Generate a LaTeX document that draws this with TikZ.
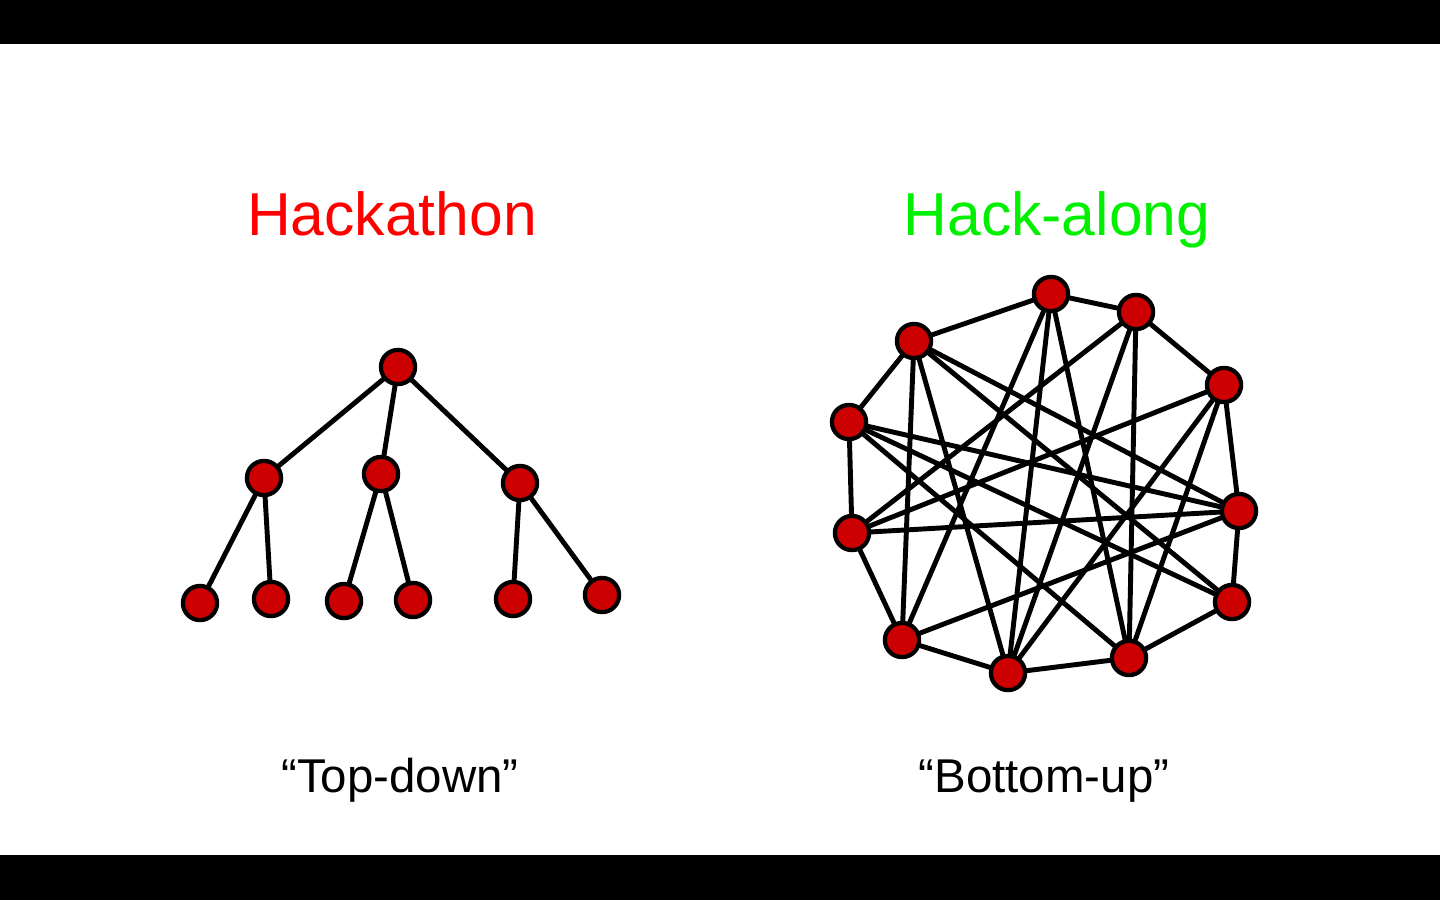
\documentclass[tikz,border=0pt]{standalone}
\usepackage{fontspec}
\setmainfont{Liberation Sans}
\definecolor{dotred}{HTML}{CC0000}
\definecolor{hackgreen}{HTML}{00F000}
\tikzset{
	dot/.style={circle, draw=black, fill=dotred, line width=2.4pt, minimum size=19.5pt, inner sep=0pt},
	link/.style={line width=2.8pt},
	title/.style={anchor=base, font=\fontsize{34.5}{40}\selectfont},
	caption/.style={anchor=base, font=\fontsize{27}{32}\selectfont}
}

\begin{document}
\begin{tikzpicture}[x=0.02cm, y=-0.02cm, line cap=round, line join=round]
\useasboundingbox (0,0) rectangle (1440,900);
% black bars
\fill[black] (0,0) rectangle (1440,44);
\fill[black] (0,855) rectangle (1440,900);

%========================
% Left: tree
%========================
\begin{scope}
	\node[title, text=red] (hackathon) at (392,235) {Hackathon};
	\node[caption] (topdown) at (400,792) {``Top-down''};
	
	% root, middle level, leaves
	\node[dot] (r) at (398,367) {};
	\node[dot] (m1) at (264,478) {};
	\node[dot] (m2) at (381,474) {};
	\node[dot] (m3) at (520,483) {};
	\node[dot] (l1) at (200,603) {};
	\node[dot] (l2) at (271,599) {};
	\node[dot] (l3) at (344,601) {};
	\node[dot] (l4) at (413,600) {};
	\node[dot] (l5) at (513,599) {};
	\node[dot] (l6) at (602,595) {};
	
	\foreach \a/\b in {r/m1, r/m2, r/m3, m1/l1, m1/l2, m2/l3, m2/l4, m3/l5, m3/l6}
		\draw[link] (\a) -- (\b);
\end{scope}

%========================
% Right: network
%========================
\begin{scope}
	\node[title, text=hackgreen] (hackalong) at (1057,235) {Hack-along};
	\node[caption] (bottomup) at (1044,792) {``Bottom-up''};
	
	% nodes round the ring
	\node[dot] (a) at (1051,294) {};
	\node[dot] (b) at (1136,312) {};
	\node[dot] (c) at (1224,385) {};
	\node[dot] (d) at (1239,511) {};
	\node[dot] (e) at (1232,602) {};
	\node[dot] (f) at (1129,658) {};
	\node[dot] (g) at (1008,673) {};
	\node[dot] (h) at (902,640) {};
	\node[dot] (i) at (852,533) {};
	\node[dot] (j) at (849,422) {};
	\node[dot] (k) at (914,341) {};
	
	% ring
	\foreach \a/\b in {a/b, b/c, c/d, d/e, e/f, f/g, g/h, h/i, i/j, j/k, k/a}
		\draw[link] (\a) -- (\b);
	% chords
	\foreach \a/\b in {a/h, a/g, a/f, b/i, b/g, b/f, c/i, c/g, c/f,
		k/h, k/g, k/e, k/d, j/d, j/e, j/f, i/d, h/d}
		\draw[link] (\a) -- (\b);
\end{scope}
\end{tikzpicture}
\end{document}
